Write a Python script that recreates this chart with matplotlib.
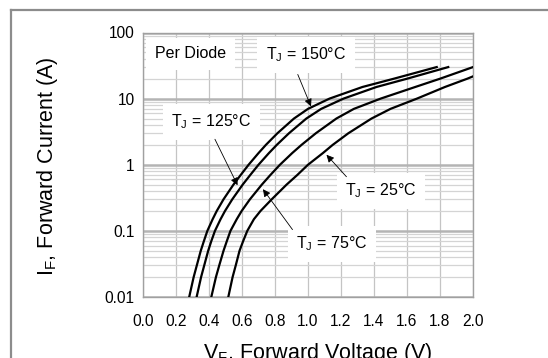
import matplotlib
matplotlib.use("Agg")
import matplotlib.pyplot as plt
from matplotlib.ticker import FixedLocator, LogLocator, NullFormatter

plt.rcParams['font.family'] = ['Liberation Sans', 'DejaVu Sans']
plt.rcParams['mathtext.fontset'] = 'custom'
plt.rcParams['mathtext.rm'] = 'Liberation Sans'

# Forward current (A) and forward voltage (V)
current = [0.01, 0.02, 0.03, 0.05, 0.07, 0.1, 0.15, 0.2, 0.3, 0.5, 0.7,
           1, 1.5, 2, 3, 5, 7, 10, 15, 20, 30]
vf_150 = [0.280, 0.307, 0.326, 0.350, 0.369, 0.390, 0.422, 0.447, 0.488, 0.548, 0.592,
          0.640, 0.700, 0.745, 0.815, 0.915, 1.000, 1.130, 1.330, 1.520, 1.780]
vf_125 = [0.325, 0.352, 0.371, 0.395, 0.414, 0.436, 0.470, 0.497, 0.541, 0.604, 0.650,
          0.700, 0.763, 0.811, 0.885, 0.990, 1.080, 1.215, 1.415, 1.600, 1.850]
vf_75 = [0.414, 0.442, 0.462, 0.488, 0.508, 0.530, 0.568, 0.598, 0.648, 0.720, 0.772,
         0.830, 0.904, 0.961, 1.048, 1.172, 1.278, 1.440, 1.650, 1.800, 2.000]
current_25 = [0.01, 0.02, 0.03, 0.05, 0.07, 0.1, 0.15, 0.2, 0.3, 0.5, 0.7,
              1, 1.5, 2, 3, 5, 7, 10, 15, 20, 21.7]
vf_25 = [0.517, 0.543, 0.562, 0.585, 0.607, 0.632, 0.672, 0.712, 0.780, 0.870, 0.935,
         1.000, 1.090, 1.150, 1.245, 1.385, 1.500, 1.660, 1.830, 1.965, 2.000]

x_ticks = [0.0, 0.2, 0.4, 0.6, 0.8, 1.0, 1.2, 1.4, 1.6, 1.8, 2.0]
y_ticks = [0.01, 0.1, 1, 10, 100]
y_tick_labels = ['0.01', '0.1', '1', '10', '100']

fig = plt.figure(figsize=(5.48, 3.58), dpi=100)
ax = fig.add_axes([143 / 548, 1 - 297 / 358, 330 / 548, 264.5 / 358])

ax.set_yscale('log')
ax.set_xlim(0, 2)
ax.set_ylim(0.01, 100)

# grid
ax.xaxis.set_major_locator(FixedLocator(x_ticks))
ax.yaxis.set_major_locator(FixedLocator(y_ticks))
ax.yaxis.set_minor_locator(LogLocator(base=10, subs=range(2, 10)))
ax.yaxis.set_minor_formatter(NullFormatter())
ax.set_xticklabels(['%.1f' % v for v in x_ticks])
ax.set_yticklabels(y_tick_labels)
ax.grid(True, axis='x', which='major', color='#c4c4c4', lw=0.9)
ax.grid(True, axis='y', which='major', color='#b4b4b4', lw=1.8)
ax.grid(True, axis='y', which='minor', color='#d4d4d4', lw=0.9)
ax.set_axisbelow(True)
ax.tick_params(axis='both', which='both', length=0, labelsize=11.2)
ax.tick_params(axis='x', pad=12)
ax.tick_params(axis='y', pad=6)
for s in ax.spines.values():
    s.set_color('#a0a0a0')
    s.set_linewidth(1.0)

for v in (vf_150, vf_125, vf_75):
    ax.plot(v, current, color='black', lw=1.6, zorder=3)
ax.plot(vf_25, current_25, color='black', lw=1.6, zorder=3)

box = dict(boxstyle='square,pad=0.55', fc='white', ec='none')
ax.text(0.288, 47.6, 'Per Diode', fontsize=11.5, ha='center', va='center', bbox=box, zorder=2)
ax.text(0.987, 46, r'T$_\mathrm{J}$ = 150°C', fontsize=11.5, ha='center', va='center', bbox=box, zorder=2)
ax.text(0.415, 4.43, r'T$_\mathrm{J}$ = 125°C', fontsize=11.5, ha='center', va='center', bbox=box, zorder=2)
ax.text(1.442, 0.40, r'T$_\mathrm{J}$ = 25°C', fontsize=11.5, ha='center', va='center', bbox=box, zorder=2)
ax.text(1.145, 0.063, r'T$_\mathrm{J}$ = 75°C', fontsize=11.5, ha='center', va='center', bbox=box, zorder=2)

arrow = dict(arrowstyle='-|>', color='black', lw=0.6, mutation_scale=11, shrinkA=0, shrinkB=0)
ax.annotate('', xy=(1.018, 7.64), xytext=(0.938, 23.2), arrowprops=arrow, zorder=4)
ax.annotate('', xy=(0.573, 0.49), xytext=(0.436, 2.43), arrowprops=arrow, zorder=4)
ax.annotate('', xy=(1.112, 1.416), xytext=(1.233, 0.659), arrowprops=arrow, zorder=4)
ax.annotate('', xy=(0.727, 0.427), xytext=(0.906, 0.1045), arrowprops=arrow, zorder=4)

fig.text(47.5 / 548, 1 - 166 / 358, r'I$_\mathrm{F}$, Forward Current (A)', rotation=90,
         ha='center', va='center', fontsize=15.5)
fig.text(318 / 548, -0.003, r'V$_\mathrm{F}$, Forward Voltage (V)', ha='center', va='baseline',
         fontsize=15.5)

# outer frame (cropped)
fig.add_artist(plt.Line2D([10.5 / 548, 10.5 / 548], [0, 1 - 10 / 358], color='#8c8c8c', lw=1.6))
fig.add_artist(plt.Line2D([10.5 / 548, 1], [1 - 10 / 358, 1 - 10 / 358], color='#8c8c8c', lw=1.6))

fig.savefig('out.png', dpi=100)
